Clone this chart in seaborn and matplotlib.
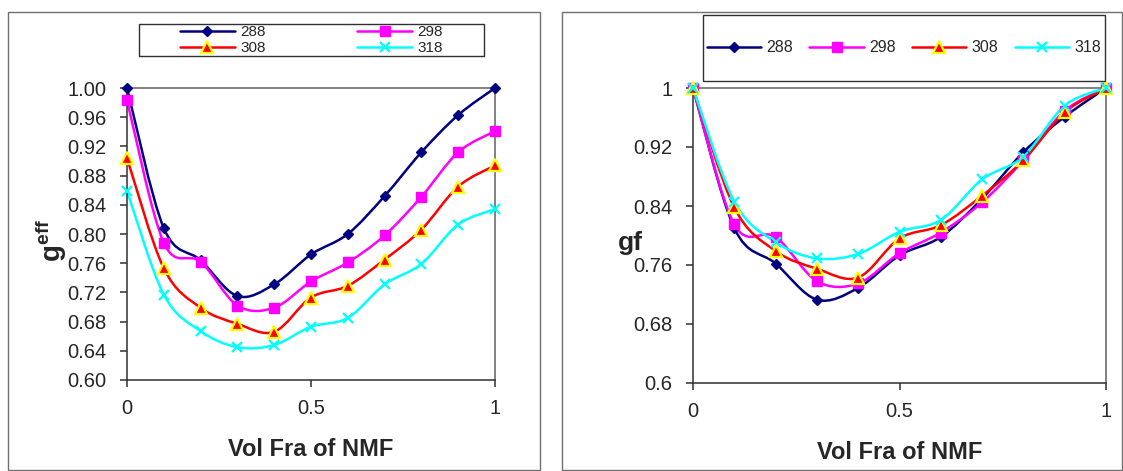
import numpy as np
import pandas as pd
import seaborn as sns
import matplotlib
matplotlib.use("Agg")
import matplotlib.pyplot as plt
from matplotlib.path import Path
from matplotlib.patches import PathPatch, Rectangle
from matplotlib.lines import Line2D

# ---------------- data ----------------
vol_frac = [0.0, 0.1, 0.2, 0.3, 0.4, 0.5, 0.6, 0.7, 0.8, 0.9, 1.0]
temps = ["288", "298", "308", "318"]

geff_288 = [1.000, 0.808, 0.764, 0.715, 0.731, 0.772, 0.800, 0.852, 0.912, 0.963, 1.000]
geff_298 = [0.983, 0.788, 0.762, 0.702, 0.699, 0.735, 0.761, 0.798, 0.851, 0.912, 0.941]
geff_308 = [0.904, 0.753, 0.699, 0.677, 0.666, 0.713, 0.729, 0.765, 0.806, 0.865, 0.894]
geff_318 = [0.859, 0.717, 0.667, 0.645, 0.648, 0.673, 0.685, 0.731, 0.759, 0.813, 0.834]

gf_288 = [1.000, 0.810, 0.762, 0.713, 0.729, 0.773, 0.798, 0.850, 0.913, 0.961, 1.000]
gf_298 = [1.000, 0.815, 0.798, 0.738, 0.735, 0.776, 0.804, 0.845, 0.902, 0.969, 1.000]
gf_308 = [1.000, 0.838, 0.779, 0.755, 0.743, 0.796, 0.814, 0.854, 0.902, 0.967, 1.000]
gf_318 = [1.000, 0.846, 0.791, 0.769, 0.775, 0.805, 0.821, 0.876, 0.907, 0.976, 1.000]

left_ticks = [0.60, 0.64, 0.68, 0.72, 0.76, 0.80, 0.84, 0.88, 0.92, 0.96, 1.00]
right_ticks = [0.6, 0.68, 0.76, 0.84, 0.92, 1.0]
right_tick_labels = ["0.6", "0.68", "0.76", "0.84", "0.92", "1"]
x_ticks = [0, 0.5, 1]
x_tick_labels = ["0", "0.5", "1"]

# ---------------- style ----------------
sns.set_style("white")
plt.rcParams["font.family"] = ["Liberation Sans", "DejaVu Sans"]
plt.rcParams["mathtext.fontset"] = "custom"
plt.rcParams["mathtext.rm"] = "Liberation Sans"
plt.rcParams["mathtext.bf"] = "Liberation Sans:bold"

styles = {
    "288": dict(color="#000080", marker="D", ms=5.5, mfc="#000080", mec="#000080", mew=1),
    "298": dict(color="#FF00FF", marker="s", ms=7.5, mfc="#FF00FF", mec="#FF00FF", mew=1),
    "308": dict(color="#FF0000", marker="^", ms=8, mfc="#FF0000", mec="#FFFF00", mew=1.6),
    "318": dict(color="#00FFFF", marker="x", ms=7, mfc="#00FFFF", mec="#00FFFF", mew=1.6),
}

def smooth_path(xs, ys):
    """Excel-like smoothed line: cubic Bezier through the data points."""
    P = np.column_stack([xs, ys]).astype(float)
    n = len(P)
    verts = [P[0]]
    codes = [Path.MOVETO]
    for i in range(n - 1):
        p0 = P[i - 1] if i > 0 else P[i]
        p1 = P[i]
        p2 = P[i + 1]
        p3 = P[i + 2] if i + 2 < n else P[i + 1]
        c1 = p1 + (p2 - p0) / 6.0
        c2 = p2 - (p3 - p1) / 6.0
        verts += [c1, c2, p2]
        codes += [Path.CURVE4] * 3
    return Path(verts, codes)

def draw_panel(ax, series):
    for t, ys in zip(temps, series):
        st = styles[t]
        ax.add_patch(PathPatch(smooth_path(vol_frac, ys), fill=False,
                               edgecolor=st["color"], lw=1.8, zorder=2,
                               capstyle="round", joinstyle="round"))
    for t, ys in zip(temps, series):
        st = styles[t]
        df = pd.DataFrame({"x": vol_frac, "y": ys})
        sns.lineplot(data=df, x="x", y="y", ax=ax, linestyle="", marker=st["marker"],
                     markersize=st["ms"], markerfacecolor=st["mfc"],
                     markeredgecolor=st["mec"], markeredgewidth=st["mew"],
                     color=st["color"], zorder=3, clip_on=False, legend=False)

def handles():
    hs = []
    for t in temps:
        st = styles[t]
        hs.append(Line2D([0], [0], color=st["color"], lw=1.8, marker=st["marker"],
                         markersize=st["ms"], markerfacecolor=st["mfc"],
                         markeredgecolor=st["mec"], markeredgewidth=st["mew"]))
    return hs

W, H = 1123, 471
fig = plt.figure(figsize=(W / 100, H / 100), dpi=100)
fig.patch.set_facecolor("white")

def fx(px):
    return px / W

def fy(py):
    return 1 - py / H

# outer frames of each chart area
fig.add_artist(Rectangle((fx(8), fy(470)), fx(540 - 8), (470 - 12) / H, transform=fig.transFigure,
                         fill=False, edgecolor="#707070", lw=1.0))
fig.add_artist(Rectangle((fx(562), fy(470)), fx(1122 - 562), (470 - 12) / H, transform=fig.transFigure,
                         fill=False, edgecolor="#707070", lw=1.0))

axL = fig.add_axes([fx(127), fy(380), fx(495 - 127), (380 - 88) / H])
axR = fig.add_axes([fx(693), fy(383), fx(1106 - 693), (383 - 88) / H])

draw_panel(axL, [geff_288, geff_298, geff_308, geff_318])
draw_panel(axR, [gf_288, gf_298, gf_308, gf_318])

for ax in (axL, axR):
    ax.set_xlim(0, 1)
    ax.set_xticks(x_ticks)
    ax.set_xticklabels(x_tick_labels)
    for s in ax.spines.values():
        s.set_visible(True)
        s.set_linewidth(1.1)
    ax.spines["left"].set_color("#303030")
    ax.spines["bottom"].set_color("#303030")
    ax.spines["top"].set_color("#606060")
    ax.spines["right"].set_color("#606060")
    ax.tick_params(axis="both", which="major", direction="out", length=5, width=1.1,
                   color="#303030", labelsize=14.5, left=True, bottom=True)
    ax.tick_params(axis="y", pad=10)
    ax.tick_params(axis="x", pad=9)
    ax.set_xlabel("Vol Fra of NMF", fontsize=17, fontweight="bold", labelpad=14)
    ax.set_ylabel("")

axL.set_ylim(0.60, 1.00)
axL.set_yticks(left_ticks)
axL.set_yticklabels([f"{v:.2f}" for v in left_ticks])

axR.set_ylim(0.6, 1.0)
axR.set_yticks(right_ticks)
axR.set_yticklabels(right_tick_labels)

# y labels
fig.text(fx(51), fy(240), r"$\mathbf{g}^{\mathbf{eff}}$", rotation=90, fontsize=20,
         ha="center", va="center")
fig.text(fx(630), fy(243), "gf", fontsize=19, fontweight="bold", ha="center", va="center")

# legends
hs = handles()
fig.add_artist(Rectangle((fx(139), fy(56)), fx(484 - 139), (56 - 24) / H, transform=fig.transFigure,
                         fill=False, edgecolor="#303030", lw=1.0))
order = [0, 2, 1, 3]
fig.legend([hs[i] for i in order], [temps[i] for i in order], ncol=2, frameon=False,
           loc="center", bbox_to_anchor=(fx((139 + 484) / 2), fy(40)), fontsize=11,
           handlelength=3.6, handletextpad=0.35, columnspacing=6.0, labelspacing=0.15,
           borderpad=0.0)

fig.add_artist(Rectangle((fx(703), fy(81)), fx(1105 - 703), (81 - 15) / H, transform=fig.transFigure,
                         fill=False, edgecolor="#303030", lw=1.0))
fig.legend(hs, temps, ncol=4, frameon=False, loc="center",
           bbox_to_anchor=(fx((703 + 1105) / 2), fy(48)), fontsize=11.5,
           handlelength=3.4, handletextpad=0.35, columnspacing=1.0, borderpad=0.0)

fig.savefig("out.png", dpi=100, facecolor="white")
